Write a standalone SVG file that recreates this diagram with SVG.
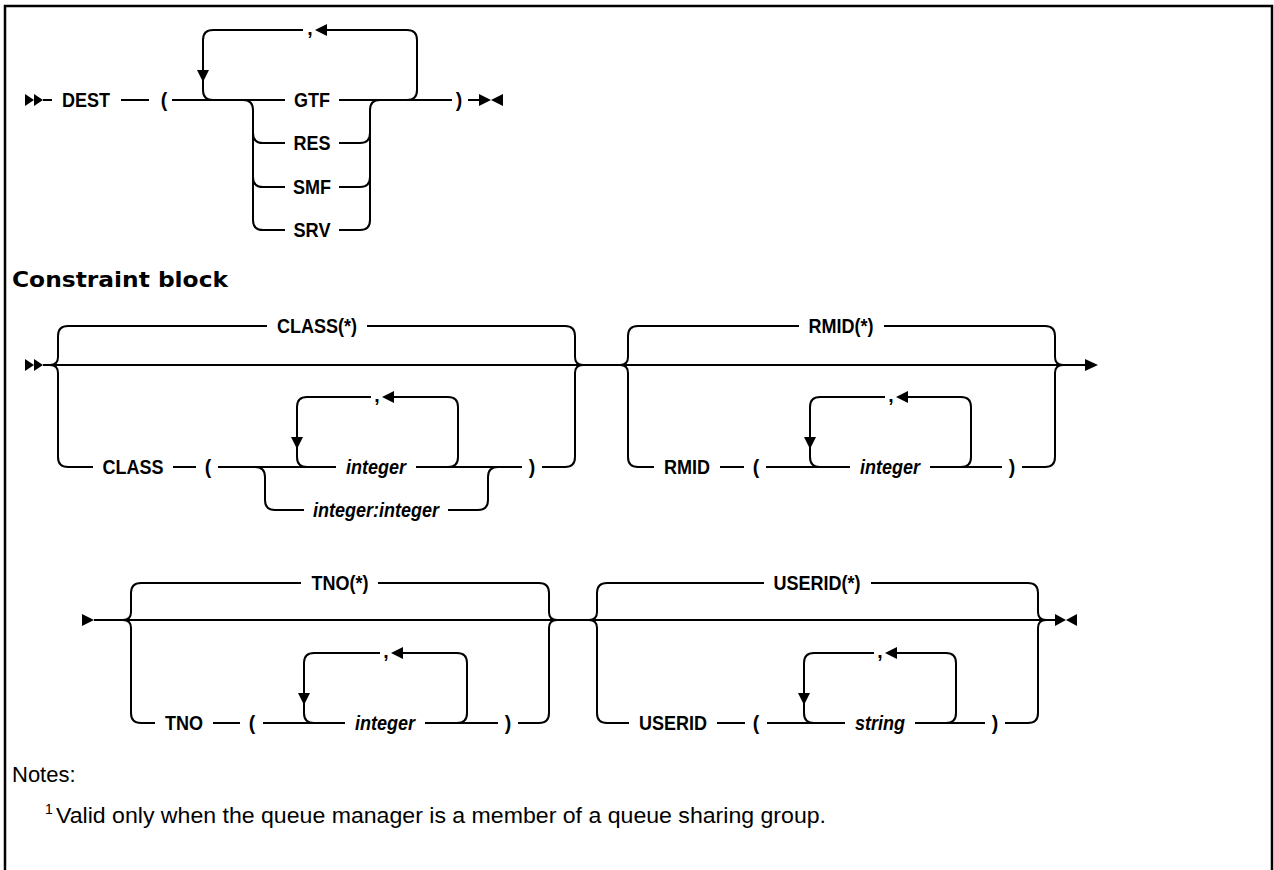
<svg xmlns="http://www.w3.org/2000/svg" width="1274" height="870" viewBox="0 0 1274 870">
<style>
.frame{fill:none;stroke:#000;stroke-width:2.5}
.rail{fill:none;stroke:#000;stroke-width:2;stroke-linejoin:round}
.ah{fill:#000}
.lbl{font-family:"Liberation Sans",Arial,sans-serif;font-size:19.5px;font-weight:bold;text-anchor:middle;fill:#000}
.var{font-style:italic}
.head{font-family:"DejaVu Sans","Liberation Sans",sans-serif;font-size:21px;font-weight:bold;fill:#000}
.note{font-family:"Liberation Sans",Arial,sans-serif;font-size:22px;fill:#000}
.sup{font-family:"Liberation Sans",Arial,sans-serif;font-size:14px;fill:#000}
</style>
<rect width="1274" height="870" fill="#fff"/>
<path class="frame" d="M5,870 V6 H1272 V870"/>

<g id="connectors">
  <!-- row 1 -->
  <path class="rail" d="M43,100 H52 M121,100 H149 M172,100 H285 M339,100 H452 M468,100 H479"/>
  <path class="rail" d="M407,100 Q417,100 417,90 V40 Q417,30 407,30 H327 M303,30 H213 Q203,30 203,40 V90 Q203,100 213,100"/>
  <path class="rail" d="M243,100 Q253,100 253,110 V220 Q253,230 263,230 H285 M339,230 H360 Q370,230 370,220 V110 Q370,100 380,100"/>
  <path class="rail" d="M253,133 Q253,143 263,143 H285 M339,143 H360 Q370,143 370,133 M253,177 Q253,187 263,187 H285 M339,187 H360 Q370,187 370,177"/>
  <!-- row 2 -->
  <path class="rail" d="M43,365 H1085"/>
  <path class="rail" d="M50,365 Q58,365 58,357 V336 Q58,326 68,326 H267 M367,326 H565 Q575,326 575,336 V357 Q575,365 583,365"/>
  <path class="rail" d="M50,365 Q58,365 58,373 V457 Q58,467 68,467 H93 M173,467 H196 M218,467 H336 M416,467 H522 M542,467 H565 Q575,467 575,457 V373 Q575,365 583,365"/>
  <path class="rail" d="M297,407 V457 Q297,467 307,467 M297,407 Q297,397 307,397 H371 M394,397 H448 Q458,397 458,407 V457 Q458,467 448,467"/>
  <path class="rail" d="M255,467 Q265,467 265,477 V500 Q265,510 275,510 H304 M448,510 H478 Q488,510 488,500 V477 Q488,467 498,467"/>
  <path class="rail" d="M620,365 Q628,365 628,357 V336 Q628,326 638,326 H799 M884,326 H1045 Q1055,326 1055,336 V357 Q1055,365 1063,365"/>
  <path class="rail" d="M620,365 Q628,365 628,373 V457 Q628,467 638,467 H654 M720,467 H744 M766,467 H850 M930,467 H1002 M1022,467 H1045 Q1055,467 1055,457 V373 Q1055,365 1063,365"/>
  <path class="rail" d="M810,407 V457 Q810,467 820,467 M810,407 Q810,397 820,397 H885 M908,397 H961 Q971,397 971,407 V457 Q971,467 961,467"/>
  <!-- row 3 -->
  <path class="rail" d="M94,620 H1055"/>
  <path class="rail" d="M123,620 Q131,620 131,612 V593 Q131,583 141,583 H301 M378,583 H539 Q549,583 549,593 V612 Q549,620 557,620"/>
  <path class="rail" d="M123,620 Q131,620 131,628 V713 Q131,723 141,723 H155 M213,723 H240 M263,723 H345 M425,723 H498 M518,723 H539 Q549,723 549,713 V628 Q549,620 557,620"/>
  <path class="rail" d="M304,663 V713 Q304,723 314,723 M304,663 Q304,653 314,653 H380 M403,653 H457 Q467,653 467,663 V713 Q467,723 457,723"/>
  <path class="rail" d="M589,620 Q597,620 597,612 V593 Q597,583 607,583 H764 M871,583 H1028 Q1038,583 1038,593 V612 Q1038,620 1046,620"/>
  <path class="rail" d="M589,620 Q597,620 597,628 V713 Q597,723 607,723 H629 M717,723 H745 M767,723 H845 M915,723 H985 M1005,723 H1028 Q1038,723 1038,713 V628 Q1038,620 1046,620"/>
  <path class="rail" d="M804,663 V713 Q804,723 814,723 M804,663 Q804,653 814,653 H874 M897,653 H946 Q956,653 956,663 V713 Q956,723 946,723"/>
  <!-- arrowheads -->
  <polygon class="ah" points="25,94 34,100 25,106"/><polygon class="ah" points="34,94 43,100 34,106"/>
  <polygon class="ah" points="479,94 491,100 479,106"/><polygon class="ah" points="503,94 491,100 503,106"/>
  <polygon class="ah" points="315,30 327,24 327,36"/><polygon class="ah" points="197,70 209,70 203,82"/>
  <polygon class="ah" points="25,359 34,365 25,371"/><polygon class="ah" points="34,359 43,365 34,371"/>
  <polygon class="ah" points="1085,359 1098,365 1085,371"/>
  <polygon class="ah" points="382,397 394,391 394,403"/><polygon class="ah" points="291,437 303,437 297,449"/>
  <polygon class="ah" points="896,397 908,391 908,403"/><polygon class="ah" points="804,437 816,437 810,449"/>
  <polygon class="ah" points="82,614 94,620 82,626"/>
  <polygon class="ah" points="1055,614 1066,620 1055,626"/><polygon class="ah" points="1077,614 1066,620 1077,626"/>
  <polygon class="ah" points="391,653 403,647 403,659"/><polygon class="ah" points="298,693 310,693 304,705"/>
  <polygon class="ah" points="885,653 897,647 897,659"/><polygon class="ah" points="798,693 810,693 804,705"/>
</g>

<g id="row1">
  <text class="lbl" x="86" y="107" textLength="48" lengthAdjust="spacingAndGlyphs">DEST</text>
  <text class="lbl" x="164" y="107">(</text>
  <text class="lbl" x="310" y="35">,</text>
  <text class="lbl" x="312" y="107" textLength="36" lengthAdjust="spacingAndGlyphs">GTF</text>
  <text class="lbl" x="312" y="150" textLength="37" lengthAdjust="spacingAndGlyphs">RES</text>
  <text class="lbl" x="312" y="194" textLength="38" lengthAdjust="spacingAndGlyphs">SMF</text>
  <text class="lbl" x="312" y="237" textLength="37" lengthAdjust="spacingAndGlyphs">SRV</text>
  <text class="lbl" x="459" y="107">)</text>
</g>
<g id="heading"><text class="head" x="12" y="287" textLength="216" lengthAdjust="spacingAndGlyphs">Constraint block</text></g>
<g id="class-group">
  <text class="lbl" x="317" y="333" textLength="80" lengthAdjust="spacingAndGlyphs">CLASS(*)</text>
  <text class="lbl" x="133" y="474" textLength="61" lengthAdjust="spacingAndGlyphs">CLASS</text>
  <text class="lbl" x="208" y="474">(</text>
  <text class="lbl var" x="376" y="474" textLength="60" lengthAdjust="spacingAndGlyphs">integer</text>
  <text class="lbl" x="377" y="402">,</text>
  <text class="lbl var" x="376" y="517" textLength="126" lengthAdjust="spacingAndGlyphs">integer:integer</text>
  <text class="lbl" x="532" y="474">)</text>
</g>
<g id="rmid-group">
  <text class="lbl" x="841" y="333" textLength="65" lengthAdjust="spacingAndGlyphs">RMID(*)</text>
  <text class="lbl" x="687" y="474" textLength="46" lengthAdjust="spacingAndGlyphs">RMID</text>
  <text class="lbl" x="756" y="474">(</text>
  <text class="lbl var" x="890" y="474" textLength="60" lengthAdjust="spacingAndGlyphs">integer</text>
  <text class="lbl" x="891" y="402">,</text>
  <text class="lbl" x="1012" y="474">)</text>
</g>
<g id="tno-group">
  <text class="lbl" x="340" y="590" textLength="57" lengthAdjust="spacingAndGlyphs">TNO(*)</text>
  <text class="lbl" x="184" y="730" textLength="38" lengthAdjust="spacingAndGlyphs">TNO</text>
  <text class="lbl" x="252" y="730">(</text>
  <text class="lbl var" x="385" y="730" textLength="60" lengthAdjust="spacingAndGlyphs">integer</text>
  <text class="lbl" x="386" y="658">,</text>
  <text class="lbl" x="508" y="730">)</text>
</g>
<g id="userid-group">
  <text class="lbl" x="817" y="590" textLength="87" lengthAdjust="spacingAndGlyphs">USERID(*)</text>
  <text class="lbl" x="673" y="730" textLength="68" lengthAdjust="spacingAndGlyphs">USERID</text>
  <text class="lbl" x="756" y="730">(</text>
  <text class="lbl var" x="880" y="730" textLength="50" lengthAdjust="spacingAndGlyphs">string</text>
  <text class="lbl" x="880" y="658">,</text>
  <text class="lbl" x="995" y="730">)</text>
</g>
<g id="notes">
  <text class="note" x="12" y="782">Notes:</text>
  <text class="sup" x="45" y="814">1</text>
  <text class="note" x="56" y="823" textLength="770" lengthAdjust="spacingAndGlyphs">Valid only when the queue manager is a member of a queue sharing group.</text>
</g>
</svg>
